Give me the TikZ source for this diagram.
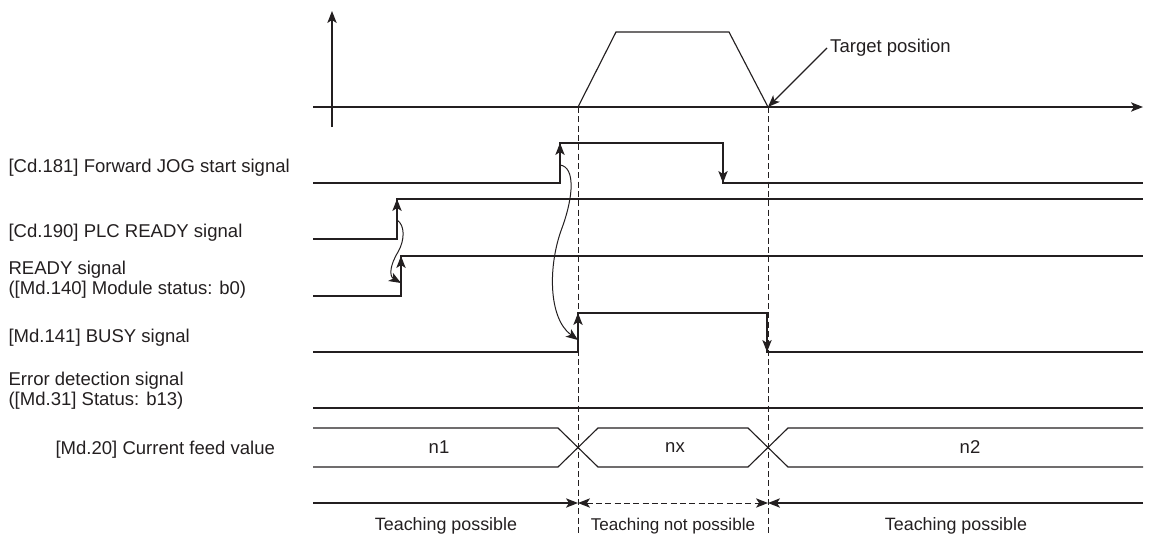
\documentclass[tikz,border=0pt]{standalone}
\usepackage{fontspec}
\setmainfont{Liberation Sans}
\usetikzlibrary{arrows.meta}
\definecolor{ink}{RGB}{35,31,32}
\newcommand\lblfont{\fontsize{13.9pt}{14.5pt}\selectfont}
\newcommand\teachfont{\fontsize{13.4pt}{14pt}\selectfont}
\newcommand\teachsmallfont{\fontsize{12.8pt}{14pt}\selectfont}
\begin{document}
\begin{tikzpicture}[x=0.75pt,y=-0.75pt, color=ink, line width=0.85pt,
  tip/.style={Stealth[length=9pt,width=7pt,inset=2.3pt]},
  arr/.style={-{Stealth[length=9pt,width=7pt,inset=2.3pt]}},
  darr/.style={{Stealth[length=9pt,width=7pt,inset=2.3pt]}-{Stealth[length=9pt,width=7pt,inset=2.3pt]}},
  guide/.style={dash pattern=on 4.5pt off 2.5pt, line width=0.75pt},
  lbl/.style={font=\lblfont, text=ink, inner sep=0pt, anchor=base west, align=left},
  val/.style={font=\lblfont, text=ink, inner sep=0pt},
  teach/.style={font=\teachfont, text=ink, inner sep=0pt, anchor=base}]
\useasboundingbox (0,0) rectangle (1150,533);

% axes and speed profile
\draw[arr] (332,127) -- (332,11);
\draw[arr] (313,107) -- (1143,107);
\draw (578,107) -- (616,32) -- (729,32) -- (768,107);
\coordinate (tp) at (768,107);
\node[val, anchor=west, inner sep=2pt] (tgt) at (827,48) {Target position};
\draw[arr] (tgt.west) -- (tp);

% guide lines
\draw[guide] (578,107) -- (578,533);
\draw[guide] (768,107) -- (768,533);

% labels
\node[lbl] (l1) at (8,172) {[Cd.181] Forward JOG start signal};
\node[lbl] (l2) at (8,237) {[Cd.190] PLC READY signal};
\node[lbl] (l3) at (8,294) {READY signal\\([Md.140] Module status: b0)};
\node[lbl] (l4) at (8,342) {[Md.141] BUSY signal};
\node[lbl] (l5) at (8,405) {Error detection signal\\([Md.31] Status: b13)};
\node[lbl] (l6) at (55,454) {[Md.20] Current feed value};

% Forward JOG start signal
\draw (313,183) -- (560,183) -- (560,143) -- (723,143) -- (723,183) -- (1143,183);
\draw[arr] (560,183) -- (560,143);
\draw[arr] (723,143) -- (723,183);
% PLC READY
\draw (313,239) -- (397,239) -- (397,199) -- (1143,199);
\draw[arr] (397,239) -- (397,199);
% READY
\draw (313,296) -- (401,296) -- (401,256) -- (1143,256);
\draw[arr] (401,296) -- (401,256);
% BUSY
\draw (313,352) -- (578,352) -- (578,313) -- (767,313) -- (767,352) -- (1143,352);
\draw[arr] (578,352) -- (578,313);
\draw[arr] (767,313) -- (767,352);
% Error detection
\draw (313,408) -- (1143,408);

% causal curves
\draw[arr, line width=0.75pt] (560,165) .. controls (575,167) and (574,195) .. (562,228)
   .. controls (548,265) and (548,318) .. (578,340);
\draw[arr, line width=0.75pt] (397,220) .. controls (405,225) and (405,240) .. (398,252)
   .. controls (390,265) and (389,276) .. (401,283);

% current feed value bus
\draw (313,428) -- (558,428) -- (598,467) -- (748,467) -- (788,428) -- (1143,428);
\draw (313,467) -- (558,467) -- (598,428) -- (748,428) -- (788,467) -- (1143,467);
\node[val] (n1) at (439,447.5) {n1};
\node[val] (nx) at (675,447.5) {nx};
\node[val] (n2) at (970,447.5) {n2};

% teaching ranges
\draw[arr] (313,503) -- (578,503);
\draw[darr, guide] (578,503) -- (768,503);
\draw[arr] (1143,503) -- (768,503);
\node[teach] (t1) at (446,530) {Teaching possible};
\node[teach, font=\teachsmallfont] (t2) at (673,530) {Teaching not possible};
\node[teach] (t3) at (956,530) {Teaching possible};
\end{tikzpicture}
\end{document}
